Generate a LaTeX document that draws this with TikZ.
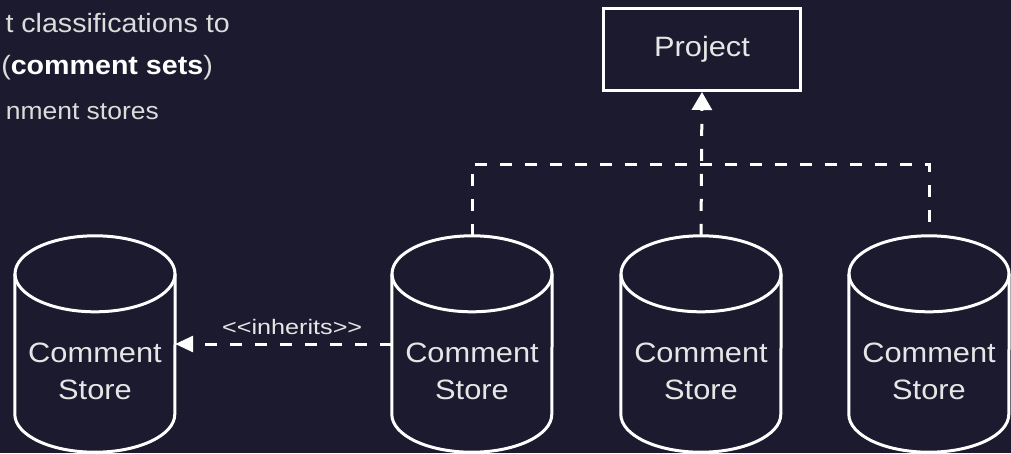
\documentclass[tikz,border=0pt]{standalone}
\usepackage{fontspec}
\setmainfont{Liberation Sans}
\newfontfamily\diag[FakeStretch=1.1]{Liberation Sans}
\newfontfamily\inhfont[FakeStretch=1.2]{Liberation Sans}
\newfontfamily\topfont[FakeStretch=1.08]{Liberation Sans}
\usetikzlibrary{arrows.meta}
\definecolor{bg}{HTML}{1B1A2F}
\definecolor{fg}{HTML}{E6E6E6}
\definecolor{tfg}{HTML}{DCDCDC}
\newcommand\cylshape[1]{%
  \draw[cylline] ([yshift=-38pt]#1.north) ellipse [x radius=80pt, y radius=38pt];
  \draw[cylline] ([yshift=-38pt]#1.north west) -- ([yshift=38pt]#1.south west)
     arc[start angle=180, end angle=360, x radius=80pt, y radius=38pt]
     -- ([yshift=-38pt]#1.north east);
}
\begin{document}
\begin{tikzpicture}[x=1pt,y=-1pt,
  cylbox/.style={minimum width=160pt, minimum height=216pt, inner sep=0pt},
  cyltext/.style={inner sep=0pt, align=center, text=fg, font=\diag\fontsize{28}{37}\selectfont},
  cylline/.style={draw=white, line width=3pt},
  dsh/.style={draw=white, line width=3pt, dash pattern=on 12pt off 13pt},
  tipbig/.style={-{Triangle[length=18pt,width=20pt]}},
  tipsmall/.style={-{Triangle[length=18pt,width=16pt]}},
  toptext/.style={inner sep=0pt, anchor=base east, text=tfg, font=\topfont\fontsize{26.5}{30}\selectfont},
  boxnode/.style={draw=white, line width=3pt, minimum width=197pt, minimum height=82pt, inner sep=0pt, text=fg, font=\diag\fontsize{28}{34}\selectfont}
]
\clip (0,0) rectangle (1011,453);
\fill[bg] (0,0) rectangle (1011,453);

% top-left text
\node[toptext] (t1) at (230,32) {t classifications to};
\node[toptext] (t2) at (213,74) {(\textcolor{white}{\textbf{comment sets}})};
\node[toptext, font=\topfont\fontsize{24.5}{30}\selectfont] (t3) at (159,119) {nment stores};

% project
\node[boxnode] (proj) at (702,49.5) {Project};

% cylinders
\node[cylbox] (c1) at (95,344) {};
\node[cylbox] (c2) at (472,344) {};
\node[cylbox] (c3) at (701,344) {};
\node[cylbox] (c4) at (929,344) {};
\cylshape{c1}
\cylshape{c2}
\cylshape{c3}
\cylshape{c4}
\node[cyltext] (c1t) at ([yshift=-27pt]c1.center) {Comment\\Store};
\node[cyltext] (c2t) at ([yshift=-27pt]c2.center) {Comment\\Store};
\node[cyltext] (c3t) at ([yshift=-27pt]c3.center) {Comment\\Store};
\node[cyltext] (c4t) at ([yshift=-27pt]c4.center) {Comment\\Store};

% connectors
\coordinate (bus) at (701,164);
\draw[dsh] (c2.north) -- (c2.north |- bus) -- (c4.north |- bus) -- (c4.north);
\draw[dsh, tipbig] (c3.north) -- (proj.south);
\draw[dsh, tipsmall] (c2.west) -- (c1.east)
  node[pos=0.46, yshift=17pt, inner sep=0pt, text=fg, font=\inhfont\fontsize{21}{24}\selectfont] (inh) {<<inherits>>};
\end{tikzpicture}
\end{document}
